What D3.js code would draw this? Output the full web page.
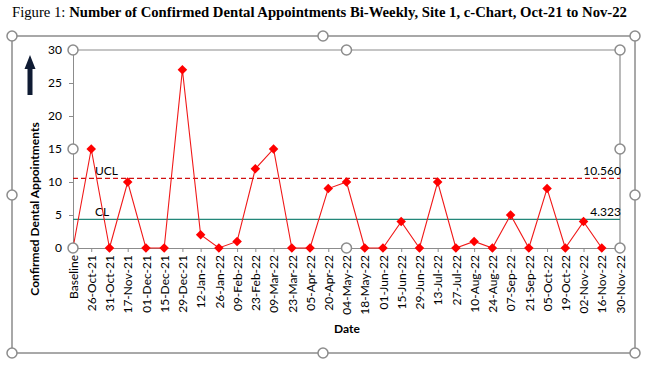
<!DOCTYPE html>
<html lang="en">
<head>
<meta charset="UTF-8">
<title>Confirmed Dental Appointments c-Chart</title>
<style>
    body { margin: 0; background: #fff; }
    svg { display: block; }
    .tick text { font-family: Lato, "Open Sans", sans-serif; font-size: 11px; fill: #000; }
    .handle { fill: #fff; stroke: #8c8c8c; stroke-width: 1.5px; }
</style>
<script src="https://d3js.org/d3.v7.min.js"></script>
</head>
<body>
<div id="chart"></div>
<script>
// data
const dates = ["Baseline", "26-Oct-21", "31-Oct-21", "17-Nov-21", "01-Dec-21", "15-Dec-21",
    "29-Dec-21", "12-Jan-22", "26-Jan-22", "09-Feb-22", "23-Feb-22", "09-Mar-22", "23-Mar-22",
    "05-Apr-22", "20-Apr-22", "04-May-22", "18-May-22", "01-Jun-22", "15-Jun-22", "29-Jun-22",
    "13-Jul-22", "27-Jul-22", "10-Aug-22", "24-Aug-22", "07-Sep-22", "21-Sep-22", "05-Oct-22",
    "19-Oct-22", "02-Nov-22", "16-Nov-22", "30-Nov-22"];
const appointments = [0, 15, 0, 10, 0, 0, 27, 2, 0, 1, 12, 15, 0, 0, 9, 10, 0, 0, 4, 0,
    10, 0, 1, 0, 5, 0, 9, 0, 4, 0, null];
const yTicks = [0, 5, 10, 15, 20, 25, 30];
const ucl = 10.560;
const cl = 4.323;

const width = 658, height = 374;
const plot = { left: 73, right: 620, top: 50, bottom: 248 };

const svg = d3.select("#chart").append("svg")
    .attr("width", width)
    .attr("height", height);

// title
const title = svg.append("text")
    .attr("x", 12)
    .attr("y", 17)
    .style("font-family", '"Liberation Serif", "Times New Roman", serif')
    .style("font-size", "14.7px");
title.append("tspan").text("Figure 1: ");
title.append("tspan").style("font-weight", "bold")
    .text("Number of Confirmed Dental Appointments Bi-Weekly, Site 1, c-Chart, Oct-21 to Nov-22");

// outer chart frame
svg.append("rect")
    .attr("x", 12).attr("y", 36)
    .attr("width", 623).attr("height", 317)
    .attr("fill", "none")
    .attr("stroke", "#8c8c8c")
    .attr("stroke-width", 1.5);

const x = d3.scalePoint().domain(dates).range([plot.left, plot.right]);
const y = d3.scaleLinear().domain([0, 30]).range([plot.bottom, plot.top]);

// plot area frame (top and right)
svg.append("path")
    .attr("d", `M${plot.left},${plot.top}H${plot.right}V${plot.bottom}`)
    .attr("fill", "none")
    .attr("stroke", "#8c8c8c")
    .attr("stroke-width", 1.2);

// y axis
const yAxis = svg.append("g")
    .attr("transform", `translate(${plot.left},0)`)
    .call(d3.axisLeft(y).tickValues(yTicks).tickSize(4).tickPadding(7));
yAxis.select(".domain").attr("stroke", "#8c8c8c");
yAxis.selectAll(".tick line").attr("stroke", "#8c8c8c");
yAxis.selectAll(".tick text").style("font-size", "12px");

// x axis
const xAxis = svg.append("g")
    .attr("transform", `translate(0,${plot.bottom})`)
    .call(d3.axisBottom(x).tickSize(4).tickPadding(0));
xAxis.select(".domain").attr("stroke", "#8c8c8c");
xAxis.selectAll(".tick line").attr("stroke", "#8c8c8c");
xAxis.selectAll(".tick text")
    .attr("transform", "rotate(-90)")
    .attr("x", -7)
    .attr("y", 0)
    .attr("dy", "0.35em")
    .style("text-anchor", "end")
    .style("font-size", "12px");

// control lines
svg.append("line")
    .attr("x1", plot.left).attr("x2", plot.right)
    .attr("y1", y(ucl)).attr("y2", y(ucl))
    .attr("stroke", "#d01010")
    .attr("stroke-width", 1.2)
    .attr("stroke-dasharray", "5,3");
svg.append("line")
    .attr("x1", plot.left).attr("x2", plot.right)
    .attr("y1", y(cl)).attr("y2", y(cl))
    .attr("stroke", "#23877a")
    .attr("stroke-width", 1.3);

const labelFont = 'Lato, "Open Sans", sans-serif';
svg.append("text").attr("x", 95).attr("y", y(ucl) - 3)
    .style("font-family", labelFont).style("font-size", "12px").text("UCL");
svg.append("text").attr("x", 95).attr("y", y(cl) - 3)
    .style("font-family", labelFont).style("font-size", "12px").text("CL");
svg.append("text").attr("x", plot.right + 1).attr("y", y(ucl) - 3)
    .attr("text-anchor", "end")
    .style("font-family", labelFont).style("font-size", "12px").text(ucl.toFixed(3));
svg.append("text").attr("x", plot.right + 1).attr("y", y(cl) - 3)
    .attr("text-anchor", "end")
    .style("font-family", labelFont).style("font-size", "12px").text(cl.toFixed(3));

// series
const series = dates.map((d, i) => ({ date: d, value: appointments[i] }))
    .filter(d => d.value !== null);

svg.append("path")
    .datum(series)
    .attr("fill", "none")
    .attr("stroke", "#f01818")
    .attr("stroke-width", 1.1)
    .attr("d", d3.line().x(d => x(d.date)).y(d => y(d.value)));

svg.selectAll(".pt")
    .data(series)
    .enter()
    .append("path")
    .attr("class", "pt")
    .attr("transform", d => `translate(${x(d.date)},${y(d.value)})`)
    .attr("d", d3.symbol().type(d3.symbolDiamond2).size(58))
    .attr("fill", "#ff0000");

// axis titles
svg.append("text")
    .attr("transform", `translate(39,209) rotate(-90)`)
    .attr("text-anchor", "middle")
    .style("font-family", labelFont)
    .style("font-size", "12px")
    .style("font-weight", "bold")
    .text("Confirmed Dental Appointments");
svg.append("text")
    .attr("x", 347)
    .attr("y", 333)
    .attr("text-anchor", "middle")
    .style("font-family", labelFont)
    .style("font-size", "12px")
    .style("font-weight", "bold")
    .text("Date");

// up arrow next to the axis title
svg.append("path")
    .attr("d", "M30,55 L35.5,69 L32.5,69 L32.5,95 L27.5,95 L27.5,69 L24.5,69 Z")
    .attr("fill", "#0f1b33");

// selection handles of the chart frame and plot area
const outerHandles = [[12, 36], [323, 36], [635, 36], [12, 195], [635, 195],
    [12, 353], [323, 353], [635, 353]];
const midX = (plot.left + plot.right) / 2, midY = (plot.top + plot.bottom) / 2;
const innerHandles = [[plot.left, plot.top], [midX, plot.top], [plot.right, plot.top],
    [plot.left, midY], [plot.right, midY],
    [plot.left, plot.bottom], [midX, plot.bottom], [plot.right, plot.bottom]];

svg.selectAll(".handle")
    .data(outerHandles.concat(innerHandles))
    .enter()
    .append("circle")
    .attr("class", "handle")
    .attr("cx", d => d[0])
    .attr("cy", d => d[1])
    .attr("r", 5);
</script>
</body>
</html>
